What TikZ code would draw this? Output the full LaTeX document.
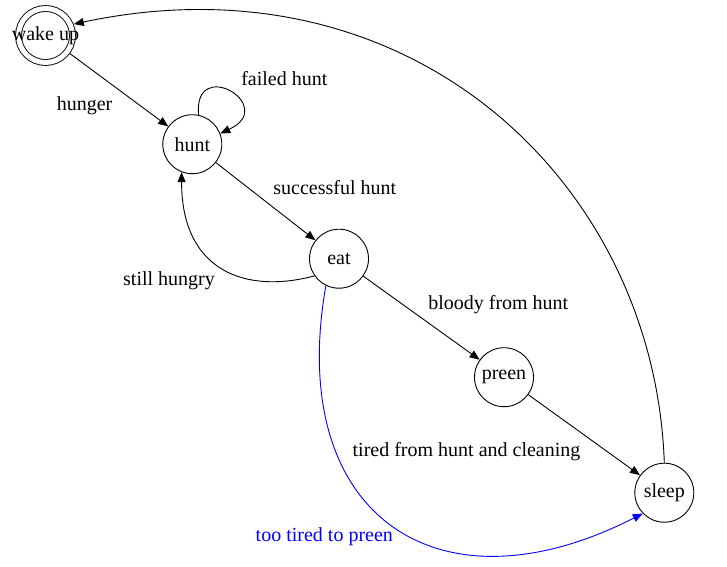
\documentclass[tikz,border=0pt]{standalone}
\usepackage{fontspec}
\setmainfont{Liberation Serif}
\usetikzlibrary{arrows.meta,positioning}

\begin{document}
\begin{tikzpicture}[on grid, font=\fontsize{20}{24}\selectfont]
% Define state styles
\tikzstyle{state} = [circle, draw, line width=0.9pt, minimum size=59pt, inner sep=2pt]
\tikzstyle{final} = [state, double, double distance=5pt, minimum size=54pt,
    inner sep=0pt, outer sep=3.5pt]
\tikzstyle{line} = [draw, line width=0.9pt, -{Triangle[length=10pt,width=8pt]}]
\tikzstyle{blueline} = [line, blue, text=blue]

    % Frame
    \useasboundingbox (0,0) rectangle (727pt,-566pt);
    % Place nodes
    \node [final] (wake) at (45.5pt,-35.5pt) {\makebox[0pt]{wake up}};
    \node [state, below right=108.7pt and 146.8pt of wake] (hunt) {hunt};
    \node [state, below right=114.5pt and 146.7pt of hunt] (eat) {eat};
    \node [state, below right=118.5pt and 165pt of eat] (preen) {preen};
    \node [state, below right=115.5pt and 160.3pt of preen] (sleep) {sleep};
    % Draw edges
    \path [line] (wake) -- node [below left, xshift=-3pt, yshift=-3pt] {hunger} (hunt);
    \path [line] (hunt.78) .. controls +(95:60pt) and +(25:65pt) .. node [pos=0.5, above right, xshift=8pt, yshift=2pt] {failed hunt} (hunt.21);
    \path [line] (hunt) -- node [above right, xshift=4pt, yshift=3pt] {successful hunt} (eat);
    \path [line] (eat.215) .. controls +(195:70pt) and +(270:100pt) .. node [below left, xshift=-4pt] {still hungry} (hunt.249);
    \path [line] (eat) -- node [above right, xshift=3pt] {bloody from hunt} (preen);
    \path [line] (preen) -- node [below left, yshift=-4pt] {tired from hunt and cleaning} (sleep);
    \path [blueline] (eat.244) .. controls +(260:232pt) and +(207:232pt) .. node [below left, xshift=5pt, yshift=1pt] {too tired to preen} (sleep.224);
    \path [line] (sleep.north) .. controls +(92:280pt) and +(12:345pt) .. (wake.22);
\end{tikzpicture}
\end{document}
